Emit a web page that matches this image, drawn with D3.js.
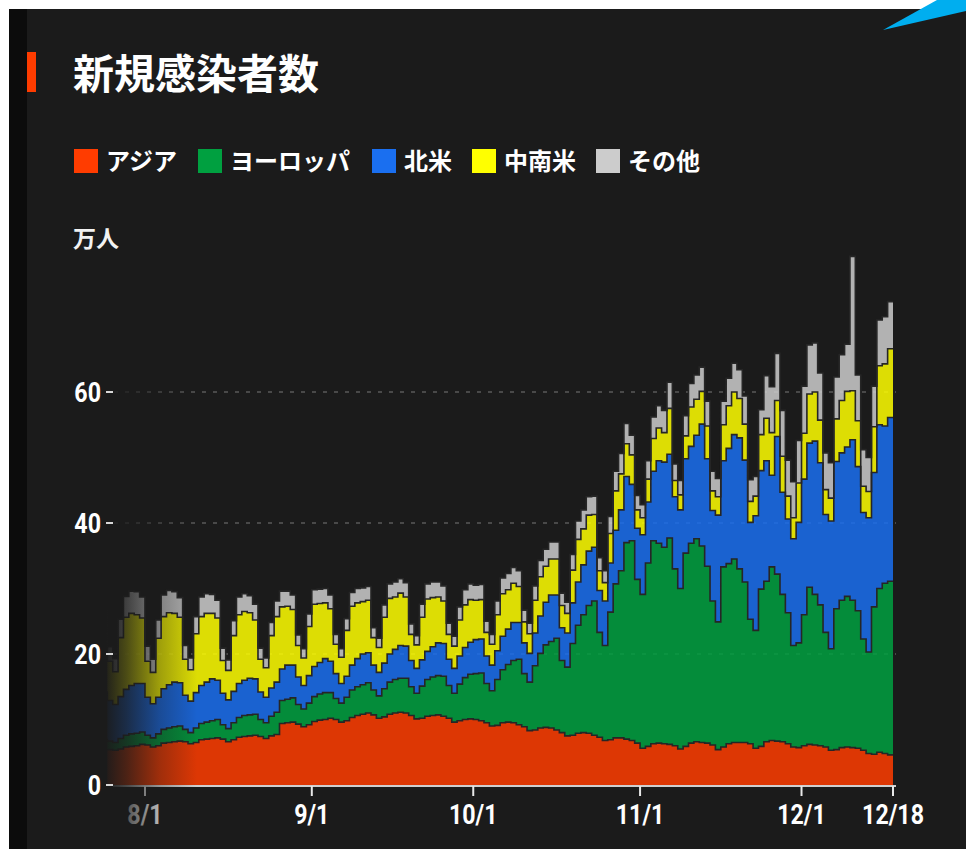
<!DOCTYPE html>
<html>
<head>
<meta charset="utf-8">
<script src="https://cdn.jsdelivr.net/npm/d3@7"></script>
<style>
  body { margin: 0; background: #fff; }
  svg { display: block; }
</style>
</head>
<body>
<svg width="966" height="849"></svg>
<script>
'use strict';

// daily new cases, unit: 万人, from 7/25 to 12/18
const startDay = "2020-07-25";

const regionKeys = ["asia", "europe", "na", "la", "other"];
const regionNames = ["アジア", "ヨーロッパ", "北米", "中南米", "その他"];
const regionColors = ["#ff3c00", "#00a040", "#1a6ff0", "#ffff00", "#cccccc"];

const asia = [
  5.5,5.4,5.3,5.5,5.8,5.9,6.0,
  6.2,6.1,5.8,6.0,6.4,6.5,6.6,
  6.7,6.6,6.3,6.5,6.9,7.0,7.1,
  7.2,7.0,6.6,6.9,7.3,7.4,7.5,
  7.6,7.4,7.1,7.5,7.7,9.4,9.5,
  9.6,9.3,8.9,9.2,9.7,9.9,10.0,
  10.2,10.0,9.6,9.8,10.3,10.6,10.8,
  11.0,10.7,10.2,10.4,10.8,11.0,11.1,
  11.0,10.6,10.1,10.2,10.5,10.6,10.7,
  10.5,10.2,9.6,9.8,10.0,10.1,10.0,
  9.8,9.5,9.0,9.1,9.5,9.6,9.5,
  9.2,8.9,8.3,8.4,8.7,8.8,8.7,
  8.4,8.0,7.5,7.6,7.9,8.0,7.9,
  7.6,7.3,6.8,6.9,7.2,7.2,7.0,
  6.8,6.4,5.6,5.9,6.3,6.4,6.3,
  6.2,6.0,5.5,5.9,6.4,6.6,6.5,
  6.4,6.1,5.4,5.8,6.3,6.5,6.5,
  6.5,6.3,5.6,5.9,6.6,6.8,6.7,
  6.6,6.3,5.8,5.7,6.0,6.2,6.1,
  6.0,5.8,5.3,5.4,5.7,5.8,5.7,
  5.6,5.3,4.8,4.7,5.0,4.8,4.6
];

const europe = [
  1.6,1.3,1.2,1.6,1.8,1.9,1.9,
  1.9,1.5,1.4,1.8,2.1,2.2,2.3,
  2.3,1.9,1.7,2.2,2.5,2.6,2.7,
  2.8,2.2,2.0,2.6,3.0,3.2,3.2,
  3.2,2.6,2.4,3.0,3.4,3.5,3.6,
  3.7,3.0,2.7,3.3,3.8,4.0,4.1,
  3.9,3.2,2.9,3.6,4.2,4.4,4.5,
  4.6,3.8,3.4,4.3,4.9,5.1,5.2,
  5.3,4.4,3.9,4.9,5.6,5.9,6.0,
  6.1,5.0,4.4,5.6,6.4,6.8,7.0,
  7.3,6.0,5.4,7.0,8.1,8.8,9.5,
  10.0,8.1,7.4,9.8,11.4,12.6,13.2,
  14.0,11.0,10.5,14.0,16.5,18.0,19.5,
  20.5,16.0,14.5,19.5,23.5,25.5,30.0,
  30.5,25.0,23.5,28.0,31.0,30.5,30.0,
  31.5,27.0,24.5,29.5,30.5,31.0,30.0,
  27.0,22.0,19.5,27.5,27.5,28.0,26.5,
  24.5,19.0,18.0,24.0,24.5,26.5,25.5,
  22.5,20.0,15.5,16.0,20.0,24.0,23.0,
  21.5,17.5,15.5,21.5,22.5,23.0,22.5,
  21.0,17.0,15.5,22.5,25.0,26.0,26.5
];

const northAmerica = [
  7.2,6.2,5.8,6.4,7.0,7.4,7.6,
  7.4,5.8,5.2,5.6,6.2,6.6,6.8,
  6.6,5.2,4.8,5.4,5.8,6.1,6.4,
  6.0,4.8,4.4,4.8,5.2,5.4,5.6,
  5.4,4.2,3.9,4.3,4.6,4.8,5.2,
  5.0,4.2,3.6,4.2,4.6,4.8,5.2,
  4.8,3.8,3.0,3.2,3.8,4.3,4.7,
  4.6,3.8,3.6,3.9,4.3,4.6,5.0,
  4.9,4.0,3.8,4.0,4.3,4.6,5.0,
  5.0,4.0,3.8,4.3,4.6,4.9,5.2,
  5.2,4.2,3.9,4.4,5.1,5.4,5.8,
  5.6,4.7,4.4,5.0,5.7,6.5,7.1,
  6.6,5.0,5.2,6.2,6.6,7.6,8.3,
  8.2,6.4,6.8,7.5,8.2,9.3,10.1,
  8.6,7.8,9.1,9.3,10.6,12.6,13.0,
  12.8,11.0,12.0,14.4,14.8,15.8,18.6,
  16.4,13.8,16.3,16.2,17.6,19.0,20.0,
  18.6,14.8,17.5,18.1,18.4,14.0,21.0,
  15.6,14.3,16.3,18.4,20.7,22.0,23.4,
  21.7,18.0,19.5,22.5,22.5,22.8,24.5,
  22.0,19.3,20.5,20.5,25.0,24.0,25.0
];

const latinAmerica = [
  9.5,6.0,5.0,9.0,11.0,11.0,10.5,
  10.0,5.5,4.8,9.0,11.0,11.0,10.5,
  10.0,5.5,4.8,9.0,10.5,10.5,10.0,
  9.5,5.0,4.5,8.5,10.5,10.5,10.0,
  9.0,5.0,4.5,8.0,10.0,9.5,9.0,
  8.5,4.8,4.2,7.5,9.5,9.0,8.5,
  8.0,4.5,4.0,7.0,9.0,8.5,8.0,
  8.0,4.2,3.8,7.0,8.5,8.0,8.0,
  7.5,4.0,3.6,6.5,8.0,7.5,7.0,
  6.5,3.8,3.4,5.5,6.5,6.5,6.0,
  6.0,3.6,3.2,5.5,6.5,6.0,6.0,
  5.5,3.2,3.0,5.0,6.0,5.5,5.5,
  5.5,3.4,3.0,5.0,6.5,5.5,5.5,
  5.0,3.0,2.8,4.5,6.0,5.5,5.0,
  4.5,2.8,2.6,3.5,5.0,5.0,4.5,
  7.0,2.5,2.3,3.5,6.0,5.5,5.0,
  5.0,3.0,2.8,5.5,6.5,6.5,6.0,
  5.5,3.2,3.0,5.5,6.5,6.5,5.5,
  5.5,3.5,3.2,6.0,7.0,7.5,7.5,
  6.5,3.8,3.5,6.5,8.0,8.5,7.5,
  7.0,4.0,4.0,7.0,9.0,9.5,10.5
];

const others = [
  3.0,2.2,2.0,2.8,3.2,3.4,3.5,
  3.2,2.3,2.0,2.8,3.3,3.4,3.3,
  3.0,2.1,1.8,2.6,3.0,3.0,2.9,
  2.7,1.9,1.6,2.3,2.7,2.7,2.6,
  2.4,1.7,1.5,2.0,2.4,2.4,2.3,
  2.2,1.6,1.4,1.9,2.2,2.2,2.2,
  2.1,1.5,1.3,1.8,2.1,2.2,2.1,
  2.1,1.5,1.4,1.9,2.2,2.3,2.2,
  2.2,1.6,1.4,2.0,2.3,2.4,2.3,
  2.3,1.7,1.5,2.0,2.3,2.4,2.3,
  2.3,1.7,1.5,2.1,2.4,2.5,2.4,
  2.4,1.8,1.6,2.2,2.5,2.6,2.6,
  2.6,1.9,1.7,2.4,2.8,2.9,2.8,
  2.8,2.0,1.8,2.6,3.0,3.1,3.1,
  3.0,2.2,2.0,2.8,3.3,3.4,3.4,
  4.0,2.5,2.2,3.1,3.6,3.7,3.7,
  3.8,3.0,2.8,3.6,4.2,4.4,4.4,
  4.3,3.3,3.0,3.8,6.5,7.0,7.2,
  7.0,5.5,5.5,6.5,7.2,7.5,7.5,
  7.2,5.6,5.4,6.4,7.0,7.2,20.5,
  7.0,5.6,5.2,6.2,7.0,7.2,7.2
];

const tickDates = ["2020-08-01", "2020-09-01", "2020-10-01", "2020-11-01", "2020-12-01", "2020-12-18"];
const tickLabels = ["8/1", "9/1", "10/1", "11/1", "12/1", "12/18"];
const yTicks = [0, 20, 40, 60];


class Chart {
  constructor() {
    this.svg = d3.select("svg");
    this.bg = "#1b1b1b";
    this.jp = "'Noto Sans CJK JP', 'Noto Sans', sans-serif";
    this.num = "Roboto, 'Noto Sans', sans-serif";
    this.squeeze = "scale(0.86,1)";   // fake a condensed face
    this.parseDate = d3.timeParse("%Y-%m-%d");

    var first = this.parseDate(startDay);
    var series = [asia, europe, northAmerica, latinAmerica, others];
    this.data = asia.map(function(v, i) {
      var row = {date: d3.timeDay.offset(first, i)};
      regionKeys.forEach(function(k, j) { row[k] = series[j][i]; });
      return row;
    });
  }

  draw() {
    this.drawFrame();
    this.createScales();
    this.drawGrid();
    this.drawAreas();
    this.drawAxisX();
    this.drawFade();
    this.drawAxisY();
    this.drawLegend();
  }

  drawFrame() {
    this.svg.append("rect").attr("width", 966).attr("height", 849).attr("fill", "#fff");
    this.svg.append("rect")
      .attr("x", 9).attr("y", 9).attr("width", 957).attr("height", 840)
      .attr("fill", this.bg);
    this.svg.append("rect")
      .attr("x", 9).attr("y", 9).attr("width", 18).attr("height", 840)
      .attr("fill", "#0c0c0c");
    this.svg.append("polygon")
      .attr("points", "883,30 937,0 966,0 966,11")
      .attr("fill", "#00aeef");

    this.svg.append("rect")
      .attr("x", 27).attr("y", 52).attr("width", 9).attr("height", 40)
      .attr("fill", "#ff3c00");
    this.svg.append("text")
      .attr("x", 73).attr("y", 89)
      .attr("font-family", this.jp).attr("font-weight", 700).attr("font-size", 41)
      .attr("fill", "#fff")
      .text("新規感染者数");

    this.svg.append("text")
      .attr("x", 73).attr("y", 247)
      .attr("font-family", this.jp).attr("font-weight", 700).attr("font-size", 23)
      .attr("fill", "#f2f2f2")
      .text("万人");
  }

  createScales() {
    this.x = d3.scaleTime()
      .domain([this.parseDate(startDay), this.parseDate("2020-12-18")])
      .range([107.3, 893]);
    this.y = d3.scaleLinear().domain([0, 60]).range([785, 392]);
  }

  drawGrid() {
    var $this = this;
    this.svg.append("g").selectAll("line")
      .data(yTicks.filter(function(d) { return d > 0; }))
      .join("line")
        .attr("x1", 114).attr("x2", 896)
        .attr("y1", function(d) { return $this.y(d); })
        .attr("y2", function(d) { return $this.y(d); })
        .attr("stroke", "#5a5a5a")
        .attr("stroke-width", 1.5)
        .attr("stroke-dasharray", "4 7");
  }

  drawAreas() {
    var $this = this;
    var stacked = d3.stack().keys(regionKeys)(this.data);

    var area = d3.area()
      .curve(d3.curveStepBefore)
      .x(function(d) { return $this.x(d.data.date); })
      .y0(function(d) { return $this.y(d[0]); })
      .y1(function(d) { return $this.y(d[1]); });

    var top = d3.line()
      .curve(d3.curveStepBefore)
      .x(function(d) { return $this.x(d.data.date); })
      .y(function(d) { return $this.y(d[1]); });

    var g = this.svg.append("g").attr("class", "areas");
    g.selectAll("path.area")
      .data(stacked)
      .join("path")
        .attr("class", "area")
        .attr("fill", function(d, i) { return regionColors[i]; })
        .attr("fill-opacity", 0.85)
        .attr("d", area);

    g.selectAll("path.edge")
      .data(stacked)
      .join("path")
        .attr("class", "edge")
        .attr("fill", "none")
        .attr("stroke", "#262626")
        .attr("stroke-width", 1.6)
        .attr("d", top);
  }

  drawAxisX() {
    var $this = this;
    var g = this.svg.append("g").attr("class", "axis axis--x");
    g.append("line")
      .attr("x1", 113).attr("x2", 896)
      .attr("y1", 786).attr("y2", 786)
      .attr("stroke", "#cfcfcf").attr("stroke-width", 2);

    var ticks = g.selectAll("g.tick")
      .data(tickDates)
      .join("g")
        .attr("class", "tick")
        .attr("transform", function(d) { return "translate(" + $this.x($this.parseDate(d)) + ",0)"; });
    ticks.append("line")
      .attr("y1", 786).attr("y2", 796)
      .attr("stroke", "#e8e8e8").attr("stroke-width", 2);
    ticks.append("text")
      .attr("y", 824)
      .attr("transform", this.squeeze)
      .attr("text-anchor", "middle")
      .attr("font-family", this.num).attr("font-weight", 700).attr("font-size", 27)
      .attr("fill", "#fff")
      .text(function(d, i) { return tickLabels[i]; });
  }

  drawFade() {
    var grad = this.svg.append("defs").append("linearGradient")
      .attr("id", "fade")
      .attr("x1", 0).attr("x2", 1).attr("y1", 0).attr("y2", 0);
    grad.append("stop").attr("offset", 0).attr("stop-color", this.bg).attr("stop-opacity", 1);
    grad.append("stop").attr("offset", 0.25).attr("stop-color", this.bg).attr("stop-opacity", 0.75);
    grad.append("stop").attr("offset", 0.6).attr("stop-color", this.bg).attr("stop-opacity", 0.32);
    grad.append("stop").attr("offset", 1).attr("stop-color", this.bg).attr("stop-opacity", 0);

    this.svg.append("rect")
      .attr("x", 103).attr("y", 250).attr("width", 94).attr("height", 590)
      .attr("fill", "url(#fade)");
  }

  drawAxisY() {
    var $this = this;
    var ticks = this.svg.append("g").attr("class", "axis axis--y")
      .selectAll("g")
      .data(yTicks)
      .join("g")
        .attr("transform", function(d) { return "translate(0," + $this.y(d) + ")"; });
    ticks.append("line")
      .attr("x1", 106).attr("x2", 113)
      .attr("stroke", "#d8d8d8").attr("stroke-width", 2);
    ticks.append("text")
      .attr("transform", "translate(101,0) " + this.squeeze)
      .attr("dy", "0.36em")
      .attr("text-anchor", "end")
      .attr("font-family", this.num).attr("font-weight", 700).attr("font-size", 27)
      .attr("fill", "#fff")
      .text(function(d) { return d; });
  }

  drawLegend() {
    var $this = this;
    var legendX = [74, 198, 372, 472, 596];
    var g = this.svg.append("g").attr("class", "legend");
    regionNames.forEach(function(name, i) {
      g.append("rect")
        .attr("x", legendX[i]).attr("y", 149).attr("width", 24).attr("height", 24)
        .attr("fill", regionColors[i]);
      g.append("text")
        .attr("x", legendX[i] + 32).attr("y", 170)
        .attr("font-family", $this.jp).attr("font-weight", 700).attr("font-size", 24)
        .attr("fill", "#fff")
        .text(name);
    });
  }
}

const chart = new Chart();
chart.draw();
</script>
</body>
</html>
